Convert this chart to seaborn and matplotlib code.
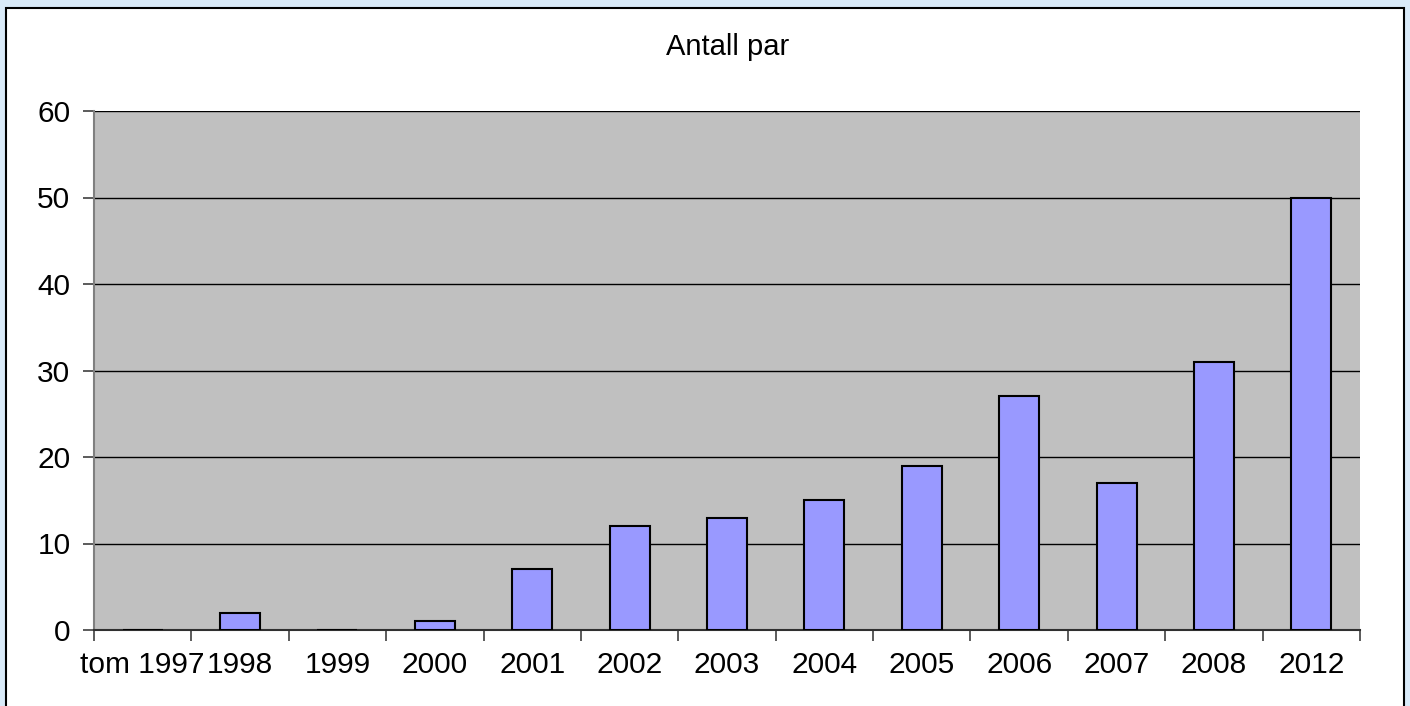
import matplotlib.pyplot as plt
import seaborn as sns
import pandas as pd
import numpy as np
from matplotlib.patches import Rectangle

# data
kategorier = ['tom 1997', '1998', '1999', '2000', '2001', '2002', '2003',
              '2004', '2005', '2006', '2007', '2008', '2012']
antall = [0, 2, 0, 1, 7, 12, 13, 15, 19, 27, 17, 31, 50]
y_ticks = [0, 10, 20, 30, 40, 50, 60]

df = pd.DataFrame({'aar': kategorier, 'antall': antall})

sns.set_style('white')
plt.rcParams['font.family'] = ['Liberation Sans', 'DejaVu Sans']

fig = plt.figure(figsize=(14.1, 7.06), dpi=100)
fig.patch.set_facecolor('#d9eaf8')

# white chart area with black frame (behind the axes)
fig.patches.append(Rectangle((6 / 1410, -0.02), 1398 / 1410, 1.02 - 8 / 706,
                             transform=fig.transFigure, facecolor='white',
                             edgecolor='black', linewidth=1.5, zorder=-5))

ax = fig.add_axes([94 / 1410, 76 / 706, 1266 / 1410, 519 / 706])
ax.set_facecolor('#c0c0c0')

sns.barplot(data=df, x='aar', y='antall', color='#9999ff', width=0.41,
            edgecolor='black', linewidth=1.5, saturation=1, ax=ax, zorder=3)

ax.set_ylim(0, 60)
ax.set_xlim(-0.5, len(kategorier) - 0.5)
ax.set_yticks(y_ticks)
ax.set_yticklabels([str(v) for v in y_ticks], fontsize=21.5, color='black')

# Excel style: ticks between categories, labels centered
ax.set_xticks(np.arange(-0.5, len(kategorier), 1))
ax.set_xticklabels([''] * (len(kategorier) + 1))
ax.set_xticks(np.arange(len(kategorier)), minor=True)
ax.set_xticklabels(kategorier, minor=True, fontsize=21.5, color='black')
ax.tick_params(axis='x', which='major', bottom=True, length=8, width=1.2,
               color='#404040')
ax.tick_params(axis='x', which='minor', bottom=True, length=0, pad=15)
ax.tick_params(axis='y', left=True, length=8, width=1.2, color='#404040',
               pad=9)

ax.yaxis.grid(True, color='black', linewidth=1, zorder=1)
ax.set_axisbelow(True)

ax.set_xlabel('')
ax.set_ylabel('')
for s in ['top', 'right']:
    ax.spines[s].set_visible(False)
ax.spines['left'].set_color('#808080')
ax.spines['left'].set_linewidth(1.5)
ax.spines['bottom'].set_color('#303030')
ax.spines['bottom'].set_linewidth(1.5)

fig.text(728 / 1410, 1 - 47 / 706, 'Antall par', ha='center', va='center',
         fontsize=21, color='black')

plt.savefig('out.png', dpi=100, facecolor=fig.get_facecolor())
